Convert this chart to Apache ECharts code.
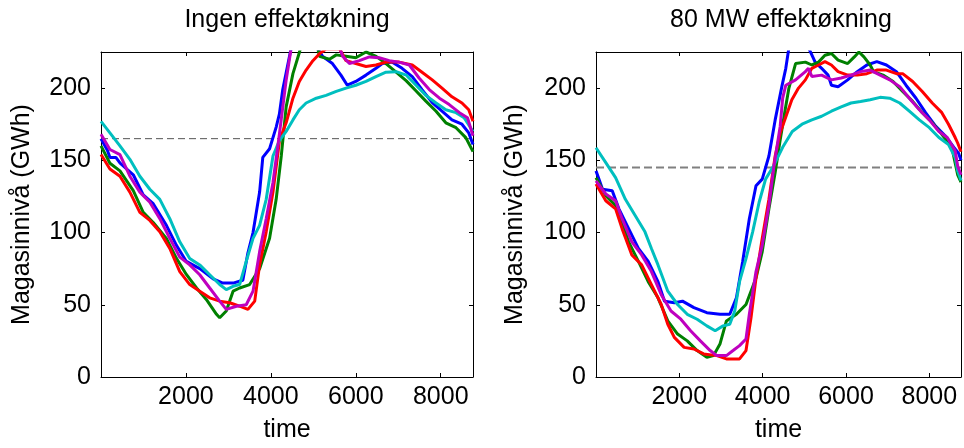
<!DOCTYPE html>
<html>
<head>
<meta charset="utf-8">
<script src="https://cdn.jsdelivr.net/npm/echarts@6/dist/echarts.min.js"></script>
<style>html,body{margin:0;padding:0;background:#fff}#c{width:964px;height:448px}</style>
</head>
<body>
<div id="c"></div>
<script>
// ---- Data (hours, GWh) ----
const titles = ['Ingen effektøkning', '80 MW effektøkning'];
const xName = 'time';
const yName = 'Magasinnivå (GWh)';
const xTicks = [2000, 4000, 6000, 8000];
const yTicks = [0, 50, 100, 150, 200];
const refLeft = 165;
const refRight = 145;

const leftBlue = [[0,165],[150,157],[210,152],[350,152],[450,148],[760,140],[995,126],[1230,120],[1540,105],[1780,91],[2010,80],[2325,75],[2640,68],[2870,65],[3110,65],[3340,67],[3460,86],[3580,100],[3735,128],[3810,152],[3970,158],[4125,173],[4200,182],[4280,199],[4480,228],[5100,228],[5215,222],[5450,217],[5650,209],[5800,202],[6000,204.6],[6240,209],[6475,213.7],[6625,217],[6860,218],[7090,213.7],[7330,208],[7560,199],[7800,190],[8030,184],[8265,178],[8500,175],[8660,169],[8760,161]];
const leftGreen = [[0,160],[210,148],[446,142.7],[760,129],[995,114],[1230,107],[1540,96],[1780,82],[2010,71],[2250,61.6],[2480,53.7],[2720,43.4],[2795,41],[2950,45.7],[3110,59.4],[3265,61.6],[3500,64],[3735,75],[3970,96],[4125,123],[4245,153],[4360,187],[4520,210],[4675,225],[4700,228],[5100,228],[5145,222],[5380,220],[5540,223],[5770,222],[6000,221],[6240,225],[6480,222],[6710,217],[6950,211],[7190,205],[7420,198],[7650,191],[7890,184],[8120,176],[8360,172.6],[8590,165.7],[8760,156]];
const leftRed = [[0,154],[210,144],[446,139],[680,128],[915,114],[1150,108.4],[1385,100.5],[1620,89],[1855,73],[2090,64],[2325,59.4],[2560,54.8],[2795,52.5],[3030,51.4],[3265,49],[3460,46.8],[3620,52.5],[3735,77.6],[3890,100.5],[4050,128],[4205,164],[4360,176],[4520,193],[4670,204.6],[4830,212.5],[4990,219],[5150,224],[5300,227],[5620,227],[5770,219],[6000,217],[6240,215],[6475,216],[6710,218],[7020,218],[7330,216],[7560,211],[7800,205.7],[8030,200],[8265,194],[8500,189.7],[8660,185],[8760,177]];
const leftCyan = [[0,177],[210,169],[446,160],[680,150.7],[915,139],[1150,130],[1385,123],[1620,109.6],[1855,93.6],[2090,82],[2325,77.6],[2560,70.8],[2795,64],[2950,60.5],[3110,62.8],[3265,64],[3420,80],[3580,96],[3735,105],[3890,123],[4050,153],[4200,163.7],[4360,170],[4520,178],[4670,185],[4830,189.7],[5070,193],[5300,195],[5540,197.7],[5770,200],[6000,202],[6240,204.6],[6475,208],[6710,211],[6950,211.4],[7190,209],[7420,202],[7650,195],[7890,189.7],[8120,185],[8360,183],[8550,179.5],[8760,170]];
const leftMagenta = [[0,168],[210,157.5],[446,154],[680,139],[915,128],[1150,121],[1385,109.6],[1620,96],[1855,83],[2090,77.6],[2325,70.8],[2560,61.6],[2795,52.5],[2950,46.8],[3190,49],[3420,50],[3580,59.4],[3735,86.8],[3890,109.6],[4050,134.7],[4205,169],[4360,205.5],[4480,228],[5620,228],[5690,222],[5850,217],[6085,219],[6320,221.6],[6550,221],[6790,219],[7020,218],[7260,216],[7490,207],[7730,199],[7970,193],[8200,188.6],[8440,183],[8630,179.5],[8760,167]];

const rightBlue = [[0,142.7],[157,130],[390,129],[550,116.4],[783,102.7],[1018,89],[1253,80],[1488,66],[1644,52.5],[1880,51.4],[2075,52.5],[2350,48],[2660,44.5],[2975,43.4],[3210,43.4],[3370,54.8],[3520,80],[3680,109.6],[3840,132.4],[3990,137],[4150,153],[4300,178],[4460,201],[4555,213.7],[4630,228],[5100,228],[5260,218],[5415,213.7],[5570,209],[5650,202],[5810,201],[6040,205.7],[6270,211.4],[6500,216],[6740,218.3],[6970,216],[7210,211.4],[7440,202],[7680,193],[7910,183],[8150,173.7],[8380,167],[8590,159],[8700,155],[8760,150]];
const rightGreen = [[0,138],[235,125.6],[470,118.7],[626,107.3],[783,93.6],[1018,80],[1253,66],[1488,54.8],[1723,38.8],[1958,29.7],[2190,25],[2427,18.3],[2660,13.7],[2820,14.8],[2975,22.8],[3130,38.8],[3370,43.4],[3600,50.2],[3840,68.5],[3990,86.8],[4150,116.4],[4300,141.6],[4420,164],[4540,185],[4630,200],[4790,217],[5025,218],[5180,216],[5340,218],[5495,222.8],[5650,224],[5810,219.4],[6040,217],[6200,221.6],[6310,225],[6430,221.6],[6580,216],[6660,211.4],[6890,209],[7130,204.6],[7360,197.7],[7600,190.8],[7830,183],[8070,176],[8300,168],[8540,159],[8680,140],[8760,135]];
const rightRed = [[0,133.6],[235,122],[470,116.4],[626,102.7],[860,84.5],[1096,77.6],[1330,64],[1566,50.2],[1723,36.5],[1880,27.4],[2115,20.5],[2350,19.4],[2585,16],[2900,14.8],[3130,12.5],[3445,12.5],[3600,18.3],[3720,41],[3840,68.5],[3990,96],[4150,123],[4300,153],[4420,169],[4700,192],[4860,200],[5025,205.7],[5180,213.7],[5340,216],[5495,218.3],[5650,216],[5810,211.4],[6040,209],[6270,209],[6500,210],[6740,212.5],[6970,212.5],[7210,210],[7360,210],[7600,204.6],[7830,197.7],[8070,189.7],[8300,183],[8460,175],[8620,165.8],[8680,162],[8760,156]];
const rightCyan = [[0,158.7],[235,148.4],[470,138],[705,123],[940,111.8],[1175,100.5],[1330,89],[1488,77.6],[1723,59.4],[1958,50.2],[2190,43.4],[2427,40],[2660,35.4],[2860,32],[3050,35.4],[3210,36.5],[3330,45.7],[3445,66],[3600,82],[3760,100.5],[3915,121],[4070,137],[4240,145],[4480,159],[4710,170],[4945,175],[5180,178],[5415,180.5],[5650,184],[5885,187],[6120,189.7],[6350,190.8],[6580,192],[6820,193.6],[7050,193],[7290,189.7],[7520,184],[7760,178],[8000,172.6],[8230,165.8],[8460,161],[8620,152],[8680,142.7],[8760,136]];
const rightMagenta = [[0,135.8],[235,126.7],[470,122],[626,109.6],[860,93.6],[1096,84.5],[1330,73],[1566,57],[1800,45.7],[2036,40],[2270,32],[2505,25],[2740,18.3],[2900,14.8],[3130,14.8],[3290,18.3],[3445,21.7],[3600,26.3],[3680,43.4],[3840,73],[3990,91.3],[4150,118.7],[4270,146],[4420,173.5],[4480,193],[4555,202],[4790,205.7],[5025,211.4],[5100,213.7],[5180,208],[5415,209],[5650,205.7],[5885,207],[6120,209],[6350,211.4],[6580,212.5],[6820,209],[7050,205.7],[7290,201],[7520,193],[7760,185],[8000,178],[8230,170],[8430,165.8],[8620,156.6],[8680,146],[8760,140]];

const seriesColors = ['#0000ff', '#008000', '#ff0000', '#00bfbf', '#bf00bf'];
const leftSeries = [leftBlue, leftGreen, leftRed, leftCyan, leftMagenta];
const rightSeries = [rightBlue, rightGreen, rightRed, rightCyan, rightMagenta];

// ---- Chart ----
const FONT = 'Liberation Sans, Arial, Helvetica, sans-serif';
const FS = 25;
const X_MIN = 0, X_MAX = 8760, Y_MIN = 0, Y_MAX = 225;

function xAxisDef(grid, pos, labels) {
  return {
    type: 'value', gridIndex: grid, position: pos, min: X_MIN, max: X_MAX, interval: 2000,
    name: labels ? xName : '', nameLocation: 'middle', nameGap: 41,
    nameTextStyle: {color: '#000', fontFamily: FONT, fontSize: FS},
    axisLine: {show: true, onZero: false, lineStyle: {color: '#000', width: 1}},
    axisTick: {show: true, inside: true, length: 4, lineStyle: {color: '#000'}},
    axisLabel: {show: labels, color: '#000', fontFamily: FONT, fontSize: FS, margin: 8,
      formatter: v => xTicks.indexOf(v) >= 0 ? String(v) : ''},
    splitLine: {show: false}
  };
}
function yAxisDef(grid, pos, labels, gap) {
  return {
    type: 'value', gridIndex: grid, position: pos, min: Y_MIN, max: Y_MAX, interval: 50,
    name: labels ? yName : '', nameLocation: 'middle', nameGap: gap,
    nameTextStyle: {color: '#000', fontFamily: FONT, fontSize: FS},
    axisLine: {show: true, onZero: false, lineStyle: {color: '#000', width: 1}},
    axisTick: {show: true, inside: true, length: 4, lineStyle: {color: '#000'}},
    axisLabel: {show: labels, color: '#000', fontFamily: FONT, fontSize: FS, margin: 10,
      formatter: v => yTicks.indexOf(v) >= 0 ? String(v) : ''},
    splitLine: {show: false}
  };
}

const series = [];
function addPanel(data, refVal, xi, yi, dashStyle) {
  series.push({
    type: 'line', xAxisIndex: xi, yAxisIndex: yi, showSymbol: false, silent: true,
    data: [[X_MIN, refVal], [X_MAX, refVal]],
    lineStyle: dashStyle, z: 1
  });
  data.forEach((d, i) => {
    series.push({
      type: 'line', xAxisIndex: xi, yAxisIndex: yi, showSymbol: false, silent: true,
      data: d, clip: true, z: 2 + i,
      lineStyle: {color: seriesColors[i], width: 3}
    });
  });
}
addPanel(leftSeries, refLeft, 0, 0, {color: '#555', width: 1, type: [7, 4]});
addPanel(rightSeries, refRight, 2, 2, {color: '#808080', width: 2, type: [8, 4]});

const option = {
  animation: false,
  backgroundColor: '#fff',
  title: [
    {text: titles[0], left: 287, top: 8, padding: 0, textAlign: 'center',
      textStyle: {color: '#000', fontFamily: FONT, fontSize: FS, fontWeight: 'normal'}},
    {text: titles[1], left: 781, top: 8, padding: 0, textAlign: 'center',
      textStyle: {color: '#000', fontFamily: FONT, fontSize: FS, fontWeight: 'normal'}}
  ],
  grid: [
    {left: 101, top: 52, width: 372, height: 328},
    {left: 596, top: 52, width: 372, height: 328}
  ],
  xAxis: [xAxisDef(0, 'bottom', true), xAxisDef(0, 'top', false), xAxisDef(1, 'bottom', true), xAxisDef(1, 'top', false)],
  yAxis: [yAxisDef(0, 'left', true, 66), yAxisDef(0, 'right', false, 0), yAxisDef(1, 'left', true, 68), yAxisDef(1, 'right', false, 0)],
  series: series
};
const chart = echarts.init(document.getElementById('c'), null, {renderer: 'canvas'});
chart.setOption(option);
</script>
</body>
</html>
